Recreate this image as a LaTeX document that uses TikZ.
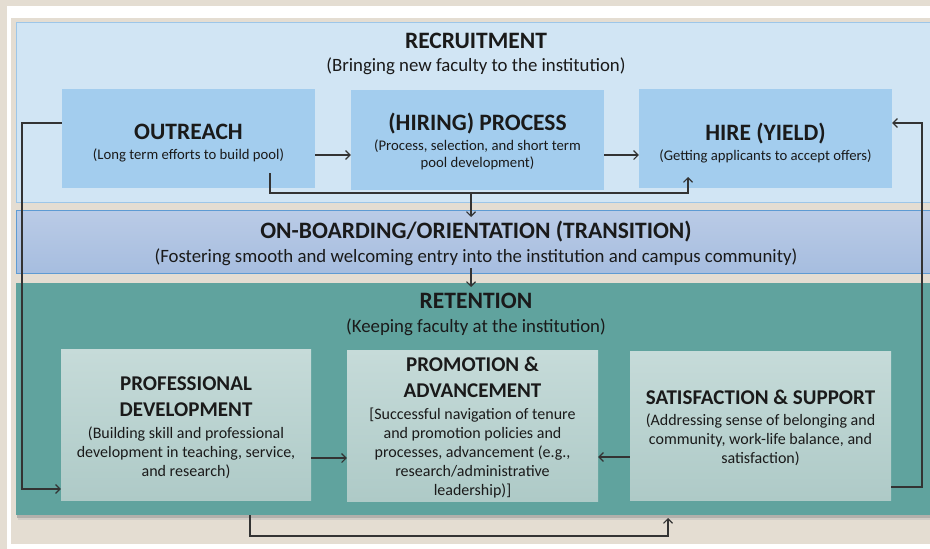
\documentclass[tikz,border=0pt]{standalone}
\usepackage{fontspec}
\setmainfont{Carlito}
\usetikzlibrary{arrows.meta}

\definecolor{pagebeige}{HTML}{E4DDD2}
\definecolor{recfill}{HTML}{D1E5F4}
\definecolor{recline}{HTML}{9DC6E8}
\definecolor{recbox}{HTML}{A3CDEE}
\definecolor{onbtop}{HTML}{BACBE6}
\definecolor{onbbot}{HTML}{A6BDDF}
\definecolor{onbline}{HTML}{5E9BD3}
\definecolor{retfill}{HTML}{60A39E}
\definecolor{rettop}{HTML}{C6DBD9}
\definecolor{retbot}{HTML}{AECAC7}
\definecolor{ink}{HTML}{1A1A1A}
\definecolor{wire}{HTML}{333333}

\tikzset{
  band/.style={rectangle, inner sep=0pt, anchor=north west},
  sectitle/.style={inner sep=0pt, text=ink, font=\fontsize{23.5}{28}\selectfont\bfseries},
  secsub/.style={inner sep=0pt, text=ink, font=\fontsize{18.8}{22}\selectfont},
  recstage/.style={rectangle, inner sep=0pt, fill=recbox},
  retstage/.style={rectangle, inner sep=0pt, top color=rettop, bottom color=retbot},
  rectext/.style={inner sep=0pt, align=center, text=ink, font=\fontsize{14.7}{17}\selectfont},
  rettext/.style={inner sep=0pt, align=center, text=ink, font=\fontsize{16}{19}\selectfont},
  wire/.style={draw=wire, line width=1.1pt},
  flow/.style={wire, -{Straight Barb[length=4.5pt,width=9pt]}},
}
\newcommand\recT[1]{{\fontsize{23.5}{28}\selectfont\bfseries #1}}
\newcommand\retT[1]{{\fontsize{21}{26}\selectfont\bfseries #1}}

\begin{document}
\begin{tikzpicture}[x=1pt,y=-1pt]
  % page and frame
  \useasboundingbox (0,0) rectangle (930,549);
  \clip (0,0) rectangle (930,549);
  \fill[pagebeige] (0,0) rectangle (930,549);
  \fill[white] (7,6) rectangle (940,560);
  \fill[pagebeige] (11,18) rectangle (940,544);

  % stage bands
  \node[band, fill=recfill, draw=recline, line width=1.4pt,
        minimum width=930pt, minimum height=180pt] (recruitment) at (16,22) {};
  \node[band, top color=onbtop, bottom color=onbbot, draw=onbline, line width=1.4pt,
        minimum width=930pt, minimum height=63pt] (onboarding) at (16,210) {};
  \fill[black!45, opacity=0.55] (17,515) rectangle (945,518);
  \fill[black!30, opacity=0.35] (18,518) rectangle (945,520);
  \node[band, fill=retfill, minimum width=930pt, minimum height=232pt]
        (retention) at (16,283) {};

  % band headings
  \node[sectitle] (rec-title) at (476,40.5) {RECRUITMENT};
  \node[secsub]   (rec-sub)   at (476,66) {(Bringing new faculty to the institution)};
  \node[sectitle] (onb-title) at (476,232) {ON-BOARDING/ORIENTATION (TRANSITION)};
  \node[secsub]   (onb-sub)   at (476,257.5) {(Fostering smooth and welcoming entry into the institution and campus community)};
  \node[sectitle] (ret-title) at (476,301) {RETENTION};
  \node[secsub]   (ret-sub)   at (476,327) {(Keeping faculty at the institution)};

  % recruitment stages
  \node[recstage, minimum width=253pt, minimum height=99pt] (outreach) at (188.5,138.5) {};
  \node[recstage, minimum width=253pt, minimum height=100pt] (process) at (477.5,140) {};
  \node[recstage, minimum width=253pt, minimum height=99pt] (hire) at (765.5,138.5) {};
  \node[rectext, yshift=-5pt] (outreach-text) at (outreach.center)
    {\recT{OUTREACH}\\[3pt](Long term efforts to build pool)};
  \node[rectext, yshift=-1.5pt] (process-text) at (process.center)
    {\recT{(HIRING) PROCESS}\\[3pt](Process, selection, and short term\\pool development)};
  \node[rectext, yshift=-4.5pt] (hire-text) at (hire.center)
    {\recT{HIRE (YIELD)}\\[3pt](Getting applicants to accept offers)};

  % retention stages
  \node[retstage, minimum width=250pt, minimum height=151pt] (profdev) at (186,424.5) {};
  \node[retstage, minimum width=251pt, minimum height=151pt] (promo) at (472.5,425.5) {};
  \node[retstage, minimum width=261pt, minimum height=149pt] (satisf) at (760.5,425.5) {};
  \node[rettext, yshift=-3pt] (profdev-text) at (profdev.center)
    {\retT{PROFESSIONAL}\\[7pt]\retT{DEVELOPMENT}\\[2.5pt](Building skill and professional\\development in teaching, service,\\and research)};
  \node[rettext, yshift=-2pt] (promo-text) at (promo.center)
    {\retT{PROMOTION \&}\\[7pt]\retT{ADVANCEMENT}\\[2.5pt][Successful navigation of tenure\\and promotion policies and\\processes, advancement (e.g.,\\research/administrative\\leadership)]};
  \node[rettext, yshift=-2.5pt] (satisf-text) at (satisf.center)
    {\retT{SATISFACTION \& SUPPORT}\\[1.5pt](Addressing sense of belonging and\\community, work-life balance, and\\satisfaction)};

  % junction points on the connectors
  \coordinate (out-tap)  at (270,173);
  \coordinate (rec-rail) at (471,193);
  \coordinate (hire-in)  at (688,177);
  \coordinate (onb-in)   at (471,217);
  \coordinate (onb-out)  at (471,268);
  \coordinate (ret-in)   at (471,287);
  \coordinate (left-rail)  at (22,300);
  \coordinate (right-rail) at (922,300);
  \coordinate (ret-tap)  at (250,515);
  \coordinate (low-rail) at (460,536);
  \coordinate (sat-in)   at (668,518);

  % flow within recruitment
  \draw[flow] (outreach.east |- 0,155) -- (process.west |- 0,155);
  \draw[flow] (process.east |- 0,155) -- (hire.west |- 0,155);
  \draw[flow] (out-tap) |- (rec-rail) -| (hire-in);
  % between the stages
  \draw[flow] (rec-rail) -- (onb-in);
  \draw[flow] (onb-out) -- (ret-in);
  % flow within retention
  \draw[flow] (profdev.east |- 0,458) -- (promo.west |- 0,458);
  \draw[flow] (satisf.west |- 0,457) -- (promo.east |- 0,457);
  % feedback loops
  \draw[flow] (outreach.west |- 0,123) -| (left-rail) |- (profdev.west |- 0,489);
  \draw[flow] (satisf.east |- 0,487) -| (right-rail) |- (hire.east |- 0,123);
  \draw[flow] (ret-tap) |- (low-rail) -| (sat-in);
\end{tikzpicture}
\end{document}
